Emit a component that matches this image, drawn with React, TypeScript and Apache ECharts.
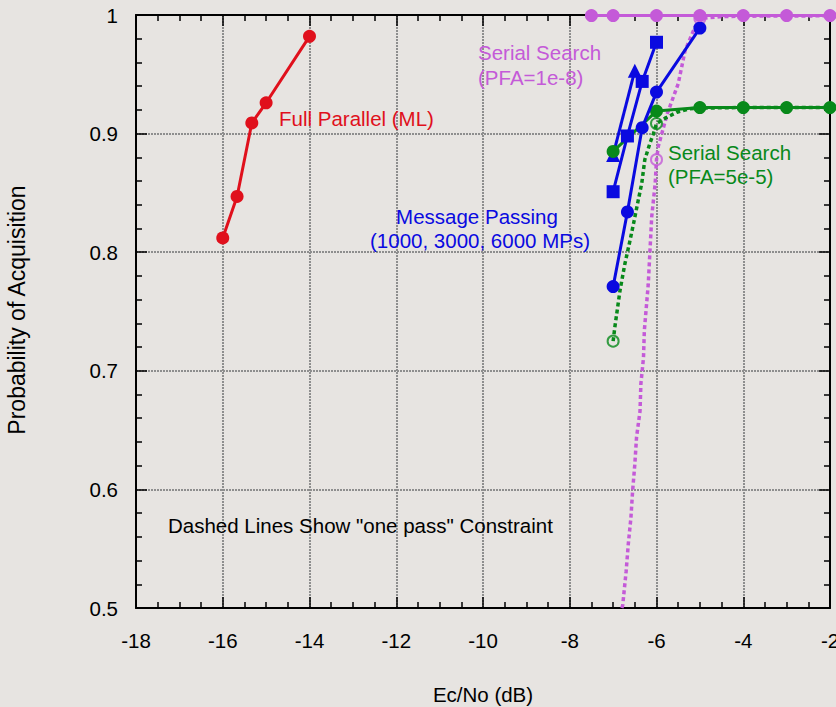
import React, { useEffect, useRef } from "react";
import * as echarts from "echarts";

// ---- Data ----
const xTickLabels = ["-18", "-16", "-14", "-12", "-10", "-8", "-6", "-4", "-2"];
const yTickLabels = ["0.5", "0.6", "0.7", "0.8", "0.9", "1"];
const xAxisTitle = "Ec/No (dB)";
const yAxisTitle = "Probability of Acquisition";

const fullParallelX = [-16, -15.67, -15.33, -15, -14];
const fullParallelY = [0.812, 0.847, 0.909, 0.926, 0.982];

const serial1e8X = [-7.5, -7, -6, -5, -4, -3, -2];
const serial1e8Y = [0.9995, 0.9995, 0.9995, 0.9995, 0.9995, 0.9995, 0.9995];

const serial1e8OnePassX = [-6.8, -6.78, -6.7, -6.65, -6.59, -6.55, -6.5, -6.46, -6.38, -6.36, -6.3, -6.28, -6.19, -6.11, -6.03, -6.0, -5.96, -5.75, -5.5, -5.34, -5.11, -5.0, -4.54, -4, -3, -2];
const serial1e8OnePassY = [0.5, 0.502, 0.531, 0.554, 0.576, 0.599, 0.621, 0.644, 0.666, 0.689, 0.711, 0.734, 0.773, 0.83, 0.858, 0.878, 0.889, 0.917, 0.942, 0.97, 0.99, 0.997, 0.9986, 0.999, 0.9992, 0.9993];
const serial1e8MarkX = [-6, -5];
const serial1e8MarkY = [0.878, 0.997];

const serial5e5X = [-7, -6, -5, -4, -3, -2];
const serial5e5Y = [0.885, 0.919, 0.922, 0.922, 0.922, 0.922];

const serial5e5OnePassX = [-7.0, -6.96, -6.84, -6.73, -6.61, -6.53, -6.42, -6.34, -6.27, -6.15, -6.07, -6.0, -5.8, -5.53, -5.23, -5.0, -4, -3, -2];
const serial5e5OnePassY = [0.725, 0.737, 0.768, 0.79, 0.81, 0.824, 0.844, 0.858, 0.878, 0.892, 0.9, 0.9085, 0.913, 0.918, 0.921, 0.9215, 0.922, 0.922, 0.922];
const serial5e5MarkX = [-7, -6];
const serial5e5MarkY = [0.725, 0.9085];

const mp1000X = [-7, -6.67, -6.33, -6, -5];
const mp1000Y = [0.771, 0.834, 0.905, 0.935, 0.989];
const mp3000X = [-7, -6.67, -6.33, -6];
const mp3000Y = [0.851, 0.898, 0.944, 0.977];
const mp6000X = [-7, -6.5];
const mp6000Y = [0.882, 0.953];

const zip = (xs: number[], ys: number[]) => xs.map((x, i) => [x, ys[i]]);

const RED = "#e0101c";
const MAGENTA = "#c45ad8";
const GREEN = "#08891a";
const BLUE = "#0a0ae0";
const TICK = "#010101";
const FONT = '"Liberation Sans", Arial, sans-serif';
const FS = 20.5;

type Cfg = { family: boolean; right: number; mx: number; my: number; fs: number; simple: boolean };

function buildOption(cfg: Cfg) {
  const mkTick = () => ({ show: true, inside: true, length: 11, lineStyle: { color: TICK, width: 1.5 } });
  const mkMinor = (n: number) => ({ show: true, splitNumber: n, length: 6, lineStyle: { color: TICK, width: 1.5 } });
  const mkLine = () => ({ show: true, onZero: false, lineStyle: { color: "#000", width: 2 } });
  const gridLine = { show: true, lineStyle: { color: "#8e8e8e", width: 2, type: [2, 1] } };
  const fam = cfg.family ? { fontFamily: FONT } : {};
  const text = (t: string, x: number, y: number, color: string, align = "left", size = FS, rotation = 0) => ({
    type: "text",
    x,
    y,
    rotation,
    z: 100,
    style: { text: t, fill: color, font: `${size}px ${FONT}`, align, verticalAlign: "middle" },
  });
  const sym = (s: string) => (cfg.simple ? "circle" : s);
  return {
    animation: false,
    backgroundColor: "#e7e4e1",
    grid: { left: 136, right: cfg.right, top: 15, bottom: 99, outerBoundsMode: "none" },
    xAxis: [
      {
        show: true,
        type: "value",
        min: -18,
        max: -2,
        interval: 2,
        position: "bottom",
        axisLine: mkLine(),
        axisTick: mkTick(),
        minorTick: mkMinor(4),
        splitLine: gridLine,
        axisLabel: {
          show: true,
          color: "#000",
          fontSize: cfg.fs,
          ...fam,
          margin: cfg.mx,
          formatter: (v: number) => xTickLabels[Math.round((v + 18) / 2)] ?? String(v),
        },
      },
      {
        show: true,
        type: "value",
        min: -18,
        max: -2,
        interval: 2,
        position: "top",
        axisLine: mkLine(),
        axisTick: mkTick(),
        minorTick: mkMinor(4),
        splitLine: { show: false },
        axisLabel: { show: false },
      },
    ],
    yAxis: [
      {
        show: true,
        type: "value",
        min: 0.5,
        max: 1,
        interval: 0.1,
        position: "left",
        axisLine: mkLine(),
        axisTick: mkTick(),
        minorTick: mkMinor(5),
        splitLine: gridLine,
        axisLabel: {
          show: true,
          color: "#000",
          fontSize: cfg.fs,
          ...fam,
          margin: cfg.my,
          formatter: (v: number) => yTickLabels[Math.round((v - 0.5) * 10)] ?? String(v),
        },
      },
      {
        show: true,
        type: "value",
        min: 0.5,
        max: 1,
        interval: 0.1,
        position: "right",
        axisLine: mkLine(),
        axisTick: mkTick(),
        minorTick: mkMinor(5),
        splitLine: { show: false },
        axisLabel: { show: false },
      },
    ],
    series: [
      {
        type: "line",
        name: "Serial 1e-8 one pass",
        data: zip(serial1e8OnePassX, serial1e8OnePassY),
        showSymbol: false,
        symbol: "none",
        clip: false,
        lineStyle: { color: MAGENTA, width: 3.5, type: [4, 3] },
        z: 2,
      },
      {
        type: "scatter",
        data: zip(serial1e8MarkX, serial1e8MarkY),
        symbol: "circle",
        symbolSize: 11,
        clip: false,
        itemStyle: { color: "rgba(0,0,0,0)", borderColor: MAGENTA, borderWidth: 2 },
        z: 2,
      },
      {
        type: "line",
        name: "Serial 5e-5 one pass",
        data: zip(serial5e5OnePassX, serial5e5OnePassY),
        showSymbol: false,
        symbol: "none",
        clip: false,
        lineStyle: { color: GREEN, width: 3.5, type: [4, 3] },
        z: 2,
      },
      {
        type: "scatter",
        data: zip(serial5e5MarkX, serial5e5MarkY),
        symbol: "circle",
        symbolSize: 11,
        clip: false,
        itemStyle: { color: "rgba(0,0,0,0)", borderColor: GREEN, borderWidth: 2 },
        z: 2,
      },
      {
        type: "line",
        name: "MP 6000",
        data: zip(mp6000X, mp6000Y),
        symbol: sym("triangle"),
        symbolSize: 14,
        clip: false,
        lineStyle: { color: BLUE, width: 3 },
        itemStyle: { color: BLUE },
        z: 3,
      },
      {
        type: "line",
        name: "Serial 5e-5",
        data: zip(serial5e5X, serial5e5Y),
        symbol: "circle",
        symbolSize: 13,
        clip: false,
        lineStyle: { color: GREEN, width: 3 },
        itemStyle: { color: GREEN },
        z: 3,
      },
      {
        type: "line",
        name: "MP 3000",
        data: zip(mp3000X, mp3000Y),
        symbol: sym("rect"),
        symbolSize: 13,
        clip: false,
        lineStyle: { color: BLUE, width: 3 },
        itemStyle: { color: BLUE },
        z: 4,
      },
      {
        type: "line",
        name: "MP 1000",
        data: zip(mp1000X, mp1000Y),
        symbol: "circle",
        symbolSize: 13,
        clip: false,
        lineStyle: { color: BLUE, width: 3 },
        itemStyle: { color: BLUE },
        z: 4,
      },
      {
        type: "line",
        name: "Full Parallel",
        data: zip(fullParallelX, fullParallelY),
        symbol: "circle",
        symbolSize: 13,
        clip: false,
        lineStyle: { color: RED, width: 3 },
        itemStyle: { color: RED },
        z: 4,
      },
      {
        type: "line",
        name: "Serial 1e-8",
        data: zip(serial1e8X, serial1e8Y),
        symbol: "circle",
        symbolSize: 13,
        clip: false,
        lineStyle: { color: MAGENTA, width: 3 },
        itemStyle: { color: MAGENTA },
        z: 5,
      },
    ],
    graphic: [
      text(xAxisTitle, 483, 694, "#000", "center"),
      text(yAxisTitle, 17, 310, "#000", "center", 23, Math.PI / 2),
      text("Full Parallel (ML)", 279, 118, RED),
      text("Serial Search", 478, 52, MAGENTA),
      text("(PFA=1e-8)", 478, 77, MAGENTA),
      text("Serial Search", 668, 152, GREEN),
      text("(PFA=5e-5)", 668, 176, GREEN),
      text("Message Passing", 477, 216, BLUE, "center"),
      text("(1000, 3000, 6000 MPs)", 480, 240, BLUE, "center"),
      text('Dashed Lines Show "one pass" Constraint', 168, 525, "#000"),
    ],
  };
}

const attempts: Cfg[] = [
  { family: true, right: 6, mx: 22, my: 18, fs: FS, simple: false },
  { family: false, right: 6, mx: 22, my: 18, fs: FS, simple: false },
  { family: false, right: 6, mx: 22, my: 18, fs: 14, simple: false },
  { family: false, right: 6, mx: 10, my: 10, fs: 14, simple: false },
  { family: false, right: 10, mx: 10, my: 10, fs: 14, simple: false },
  { family: false, right: 10, mx: 10, my: 10, fs: 14, simple: true },
];

export default function App() {
  const ref = useRef<HTMLDivElement>(null);
  useEffect(() => {
    const host = ref.current;
    if (!host) return;
    const chart = echarts.init(host, null, { renderer: "svg" });
    const countPainted = (): number => {
      try {
        const zr: any = chart.getZr();
        if (zr.refreshImmediately) zr.refreshImmediately();
        else if (zr.flush) zr.flush();
      } catch (e) {
        /* ignore */
      }
      const all = host.querySelectorAll("[stroke]");
      let n = 0;
      all.forEach((el) => {
        const s = (el.getAttribute("stroke") || "").replace(/\s/g, "").toLowerCase();
        if (s === TICK || s === "rgb(1,1,1)") n++;
      });
      return n;
    };
    let ok = false;
    for (const cfg of attempts) {
      try {
        chart.setOption(buildOption(cfg) as any, true);
      } catch (e) {
        continue;
      }
      if (countPainted() >= 20) {
        ok = true;
        break;
      }
    }
    if (!ok) chart.setOption(buildOption(attempts[0]) as any, true);
    return () => chart.dispose();
  }, []);
  return (
    <div
      ref={ref}
      style={{ position: "fixed", left: 0, top: 0, width: 836, height: 707 }}
    />
  );
}
